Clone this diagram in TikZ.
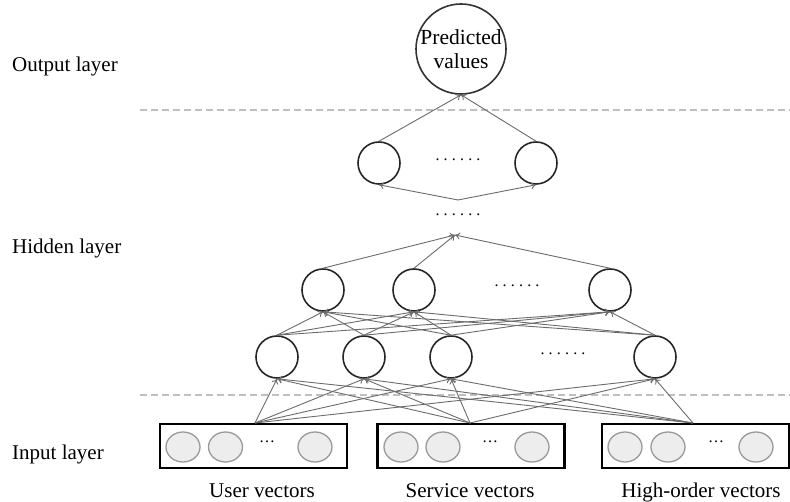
\documentclass[tikz,border=0pt]{standalone}
\usepackage{fontspec}
\setmainfont{Liberation Serif}
\usetikzlibrary{arrows.meta,shapes.geometric}
\newcommand{\sixdots}{.\hspace{4.2pt}.\hspace{4.2pt}.\hspace{4.2pt}.\hspace{4.2pt}.\hspace{4.2pt}.}
\begin{document}
\begin{tikzpicture}[x=1pt,y=-1pt,
  neuron/.style={circle,draw=black!85,line width=1.6pt,minimum size=42pt,inner sep=0pt},
  outnode/.style={circle,draw=black!80,line width=1.6pt,minimum size=90pt,inner sep=0pt,align=center,font=\fontsize{21.5}{24}\selectfont},
  inbox/.style={draw=black,line width=2.4pt,minimum width=187pt,minimum height=44pt,inner sep=0pt},
  incirc/.style={ellipse,draw=black!40,fill=black!7,line width=1.3pt,minimum width=34pt,minimum height=30pt,inner sep=0pt},
  conn/.style={draw=black!58,line width=0.9pt,-{To[length=5pt,width=7pt]}},
  sep/.style={draw=black!25,line width=1.6pt,dash pattern=on 7pt off 4pt},
  lbl/.style={font=\fontsize{21}{24}\selectfont,inner sep=0pt},
  dotlbl/.style={font=\fontsize{16}{18}\selectfont,inner sep=0pt}]
\useasboundingbox (0,0) rectangle (790,502);
% layer labels
\node[lbl,anchor=west] (lo) at (12,66) {Output layer};
\node[lbl,anchor=west] (lh) at (12,248) {Hidden layer};
\node[lbl,anchor=west] (li) at (12,454) {Input layer};
% separators
\coordinate (s1a) at (140,110); \coordinate (s1b) at (790,110);
\coordinate (s2a) at (140,395); \coordinate (s2b) at (790,395);
\draw[sep] (s1a) -- (s1b);
\draw[sep] (s2a) -- (s2b);
% output
\node[outnode] (out) at (461,49) {Predicted\\values};
% top hidden
\node[neuron] (t1) at (379,163) {};
\node[neuron] (t2) at (536,163) {};
\node[dotlbl] (td) at (458,160) {\sixdots};
\node[dotlbl] (md) at (458,215) {\sixdots};
\coordinate (tp) at (458,200);
% hidden 2
\node[neuron] (a1) at (323,290) {};
\node[neuron] (a2) at (414,290) {};
\node[neuron] (a3) at (610,290) {};
\node[dotlbl] (ad) at (517,286) {\sixdots};
\coordinate (cp) at (455,235);
% hidden 1
\node[neuron] (b1) at (277,357) {};
\node[neuron] (b2) at (364,357) {};
\node[neuron] (b3) at (451,357) {};
\node[neuron] (b4) at (655,357) {};
\node[dotlbl] (bd) at (563,354) {\sixdots};
% input boxes
\node[inbox] (u) at (253.5,446) {};
\node[inbox] (s) at (471,446) {};
\node[inbox] (h) at (695.5,446) {};
\node[incirc] (u1) at (183,447) {};
\node[incirc] (u2) at (225.5,447) {};
\node[dotlbl] (ud) at (267,442) {\dots};
\node[incirc] (u3) at (315,447) {};
\node[incirc] (s1) at (401,447) {};
\node[incirc] (s2) at (443,447) {};
\node[dotlbl] (sd) at (490,442) {\dots};
\node[incirc] (s3) at (532,447) {};
\node[incirc] (h1) at (625,447) {};
\node[incirc] (h2) at (668,447) {};
\node[dotlbl] (hd) at (716,442) {\dots};
\node[incirc] (h3) at (756,447) {};
\node[lbl,anchor=base] (ul) at (262,497) {User vectors};
\node[lbl,anchor=base] (sl) at (470,497) {Service vectors};
\node[lbl,anchor=base] (hl) at (701,497) {High-order vectors};
\coordinate (up) at (255,423);
\coordinate (sp) at (470,423);
\coordinate (hp) at (693,423);
% connections input -> hidden1
\foreach \i in {up,sp,hp}{
  \foreach \j in {b1,b2,b3,b4}{
    \draw[conn] (\i) -- (\j.south);
  }
}
% hidden1 -> hidden2
\foreach \i in {b1,b2,b3,b4}{
  \foreach \j in {a1,a2,a3}{
    \draw[conn] (\i.north) -- (\j.south);
  }
}
% hidden2 -> point
\foreach \i in {a1,a2,a3}{
  \draw[conn] (\i.north) -- (cp);
}
% point -> top hidden
\draw[conn] (tp) -- (t1.south);
\draw[conn] (tp) -- (t2.south);
% top -> output
\draw[conn] (t1.north) -- (out.south);
\draw[conn] (t2.north) -- (out.south);
\end{tikzpicture}
\end{document}
